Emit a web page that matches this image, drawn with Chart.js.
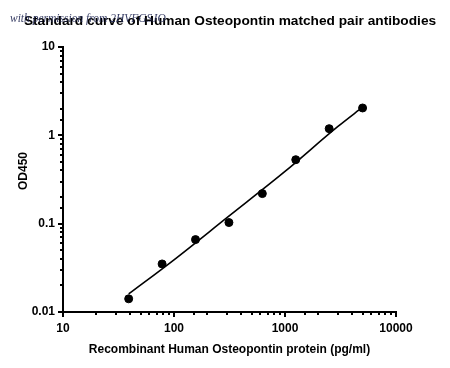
<!DOCTYPE html>
<html>
<head>
<meta charset="utf-8">
<script src="https://cdn.jsdelivr.net/npm/chart.js@4"></script>
<style>
  html, body { margin: 0; padding: 0; background: #fff; }
  #wrap { width: 450px; height: 368px; }
</style>
</head>
<body>
<div id="wrap"><canvas id="c" width="450" height="368"></canvas></div>
<script>
// ---- data ----
const concentrations = [39.06, 78.13, 156.25, 312.5, 625, 1250, 2500, 5000];
const od450 = [0.0141, 0.035, 0.066, 0.103, 0.219, 0.53, 1.19, 2.04];
const fitX = [39.06, 100, 300, 1000, 3000, 5000];
const fitY = [0.016, 0.039, 0.117, 0.39, 1.26, 2.08];
const xTickValues = [10, 100, 1000, 10000];
const xTickLabels = ['10', '100', '1000', '10000'];
const yTickValues = [0.01, 0.1, 1, 10];
const yTickLabels = ['0.01', '0.1', '1', '10'];

const titleText = 'Standard curve of Human Osteopontin matched pair antibodies';
const xTitle = 'Recombinant Human Osteopontin protein (pg/ml)';
const yTitle = 'OD450';
const watermark = 'with permission from 2HVFGSJO';

const FONT = "'Liberation Sans', Arial, sans-serif";

function labelFor(values, labels) {
  return function (value) {
    for (let i = 0; i < values.length; i++) {
      if (Math.abs(Math.log10(value) - Math.log10(values[i])) < 1e-6) return labels[i];
    }
    return '';
  };
}

const tickMarks = {
  id: 'tickMarks',
  afterDraw(chart) {
    const ctx = chart.ctx;
    ctx.save();
    ctx.strokeStyle = '#000';
    ctx.lineWidth = 2;
    const xs = chart.scales.x, ys = chart.scales.y;
    xs.ticks.forEach(t => {
      const major = Math.abs(Math.log10(t.value) - Math.round(Math.log10(t.value))) < 1e-6;
      const p = Math.round(xs.getPixelForValue(t.value));
      const len = major ? 5 : 3;
      ctx.beginPath();
      ctx.moveTo(p, xs.top);
      ctx.lineTo(p, xs.top + len);
      ctx.stroke();
    });
    ys.ticks.forEach(t => {
      const major = Math.abs(Math.log10(t.value) - Math.round(Math.log10(t.value))) < 1e-6;
      const p = Math.round(ys.getPixelForValue(t.value));
      const len = major ? 5 : 3;
      ctx.beginPath();
      ctx.moveTo(ys.right, p);
      ctx.lineTo(ys.right - len, p);
      ctx.stroke();
    });
    // y axis title
    ctx.fillStyle = '#000';
    ctx.font = "bold 12px " + FONT;
    ctx.textAlign = 'center';
    ctx.textBaseline = 'middle';
    ctx.translate(24, 171);
    ctx.rotate(-Math.PI / 2);
    ctx.fillText(yTitle, 0, 0);
    ctx.restore();
    // watermark
    ctx.save();
    ctx.font = "italic 11.5px 'Liberation Serif', serif";
    ctx.fillStyle = 'rgba(35,42,85,0.9)';
    ctx.textAlign = 'left';
    ctx.textBaseline = 'middle';
    ctx.fillText(watermark, 10, 19);
    ctx.restore();
  }
};

new Chart(document.getElementById('c'), {
  type: 'scatter',
  data: {
    datasets: [
      {
        type: 'line',
        label: 'fit',
        data: fitX.map((x, i) => ({ x: x, y: fitY[i] })),
        borderColor: '#000',
        borderWidth: 1.6,
        pointRadius: 0,
        fill: false,
        tension: 0.4,
        cubicInterpolationMode: 'monotone',
        order: 2
      },
      {
        label: 'OD450',
        data: concentrations.map((x, i) => ({ x: x, y: od450[i] })),
        backgroundColor: '#000',
        borderColor: '#000',
        pointRadius: 4,
        pointHoverRadius: 4,
        order: 1
      }
    ]
  },
  options: {
    responsive: false,
    animation: false,
    events: [],
    layout: { padding: { left: 10, right: 0, top: 0, bottom: 0 } },
    plugins: {
      legend: { display: false },
      tooltip: { enabled: false },
      title: {
        display: true,
        text: titleText,
        color: '#000',
        font: { family: FONT, size: 13.7, weight: 'bold' },
        padding: { top: 13, bottom: 17.56 }
      }
    },
    scales: {
      x: {
        type: 'logarithmic',
        min: 10,
        max: 10000,
        border: { display: true, color: '#000', width: 2 },
        grid: { display: false, drawOnChartArea: false, drawTicks: false },
        ticks: {
          autoSkip: false,
          maxRotation: 0,
          color: '#000',
          padding: 9,
          font: { family: FONT, size: 12, weight: 'bold' },
          callback: labelFor(xTickValues, xTickLabels)
        },
        title: {
          display: true,
          text: xTitle,
          color: '#000',
          font: { family: FONT, size: 12, weight: 'bold' },
          padding: { top: 0, bottom: 11 }
        },
        afterFit(scale) { scale.height = 56; }
      },
      y: {
        type: 'logarithmic',
        min: 0.01,
        max: 10,
        border: { display: true, color: '#000', width: 2 },
        grid: { display: false, drawOnChartArea: false, drawTicks: false },
        ticks: {
          autoSkip: false,
          color: '#000',
          padding: 8,
          font: { family: FONT, size: 12, weight: 'bold' },
          callback: labelFor(yTickValues, yTickLabels)
        },
        afterFit(scale) { scale.width = 53; }
      },
      spacer: {
        type: 'linear',
        position: 'right',
        display: true,
        border: { display: false },
        grid: { display: false },
        ticks: { display: false },
        afterFit(scale) { scale.width = 54; }
      }
    }
  },
  plugins: [tickMarks]
});
</script>
</body>
</html>
